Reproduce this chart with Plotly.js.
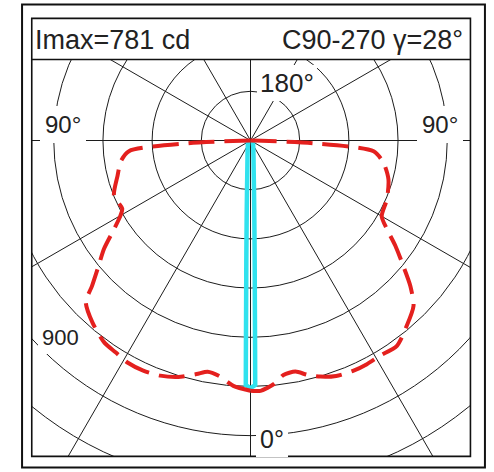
<!DOCTYPE html>
<html>
<head>
<meta charset="utf-8">
<script src="https://cdn.plot.ly/plotly-3.0.1.min.js"></script>
<style>
html, body { margin:0; padding:0; width:494px; height:472px; overflow:hidden; background:#ffffff; }
#chart { position:absolute; }
</style>
</head>
<body>
<div id="chart"></div>
<script>
// ---- data (gamma angle in degrees: negative = left half, intensity in cd) ----
// C0-180 plane, red dashed curve (both halves start at the pole)
const redLeftGamma  = [-90, -87.5, -85, -81, -75, -68, -62, -60, -57, -53.5, -50.5, -47.5, -45.5, -41, -36, -32.5, -29, -25, -21, -17, -13, -10.5, -7.7, -4, 0];
const redLeftCd     = [0, 190, 372, 400, 420, 449, 443, 458, 496, 556, 600, 655, 704, 735, 760, 766, 774, 774, 768, 754, 731, 717, 724, 750, 763];
const redRightGamma = [90, 87.5, 85, 80.5, 74.3, 66.7, 60, 57, 54, 50.6, 47.7, 44.6, 40, 35.5, 31, 27.5, 24, 20, 16.5, 13.6, 11, 8, 5.5, 2.3, 0];
const redRightCd    = [0, 192, 377, 411, 437, 453, 462, 496, 546, 603, 659, 708, 740, 769, 766, 769, 769, 764, 751, 735, 718, 722, 746, 764, 763];
// C90-270 plane, cyan curve
const cyanGamma = [-90, -45, -20, -10, -6, -4, -3, -2, -1.5, -1.25, -1.1, 0, 1.1, 1.25, 1.5, 2, 3, 4, 6, 10, 20, 45, 90];
const cyanCd    = [8, 11, 25, 53, 93, 153, 221, 366, 512, 642, 746, 755, 746, 642, 512, 366, 221, 153, 93, 53, 25, 11, 8];
// grid
const ringStep = 150;
const radialMax = 1200;
const angleStep = 30;
// texts
const headerLeft = "Imax=781 cd";
const headerRight = "C90-270 \u03b3=28\u00b0";
const angleLabelTop = "180\u00b0";
const angleLabelBottom = "0\u00b0";
const angleLabelSide = "90\u00b0";
const ringLabel = "900";

// ---- geometry of the page (window pixels) ----
const CX = 250.5, CY = 140.5;      // pole position in the window
const RPX = 393.6;                  // pixel radius of radialMax
const W = 2 * RPX;
const offX = CX - RPX, offY = CY - RPX;
const el = document.getElementById('chart');
el.style.left = offX + 'px';
el.style.top = offY + 'px';
el.style.width = W + 'px';
el.style.height = W + 'px';
const px = X => (X - offX) / W;
const py = Y => 1 - (Y - offY) / W;

const FONT = 'Liberation Sans, Arial, sans-serif';
const TXT = '#222222';
const GRID = '#1c1c1c';
const RED = '#e4201e';

const traces = [
  { type:'scatterpolar', mode:'lines', theta:cyanGamma, r:cyanCd,
    line:{color:'#30e2ee', width:4.5}, hoverinfo:'skip', showlegend:false },
  { type:'scatterpolar', mode:'lines', theta:redLeftGamma, r:redLeftCd,
    line:{color:RED, width:4, dash:'26px,10px', shape:'spline', smoothing:0.7}, hoverinfo:'skip', showlegend:false },
  { type:'scatterpolar', mode:'lines', theta:redRightGamma, r:redRightCd,
    line:{color:RED, width:4, dash:'26px,10px', shape:'spline', smoothing:0.7}, hoverinfo:'skip', showlegend:false }
];

const noLine = {color:'rgba(0,0,0,0)', width:0};
const shapes = [
  // white masks outside the diagram window
  {type:'rect', xref:'paper', yref:'paper', x0:0, x1:1, y0:py(59.5), y1:1, fillcolor:'#fff', line:noLine, layer:'above'},
  {type:'rect', xref:'paper', yref:'paper', x0:0, x1:1, y0:0, y1:py(456.5), fillcolor:'#fff', line:noLine, layer:'above'},
  {type:'rect', xref:'paper', yref:'paper', x0:0, x1:px(31.7), y0:0, y1:1, fillcolor:'#fff', line:noLine, layer:'above'},
  {type:'rect', xref:'paper', yref:'paper', x0:px(470.5), x1:1, y0:0, y1:1, fillcolor:'#fff', line:noLine, layer:'above'},
  // inner frame + header divider
  {type:'rect', xref:'paper', yref:'paper', x0:px(31.7), x1:px(470.5), y0:py(456.5), y1:py(18.3),
   line:{color:'#111', width:1.6}, fillcolor:'rgba(0,0,0,0)', layer:'above'},
  {type:'line', xref:'paper', yref:'paper', x0:px(31.7), x1:px(470.5), y0:py(59.5), y1:py(59.5),
   line:{color:'#111', width:1.4}, layer:'above'},
  // outer frame
  {type:'rect', xref:'paper', yref:'paper', x0:px(22), x1:px(485), y0:py(467.5), y1:py(4.5),
   line:{color:'#111', width:2}, fillcolor:'rgba(0,0,0,0)', layer:'above'}
];

function ann(text, X, Y, size, xanchor, bg, pad) {
  return {text:text, xref:'paper', yref:'paper', x:px(X), y:py(Y), xanchor:xanchor, yanchor:'middle',
          showarrow:false, font:{family:FONT, size:size, color:TXT},
          bgcolor: bg ? '#ffffff' : 'rgba(0,0,0,0)', borderpad: pad, borderwidth:0};
}
const annotations = [
  ann(headerLeft, 35, 40.3, 27, 'left', false, 0),
  ann(headerRight, 463.5, 40.3, 27, 'right', false, 0),
  ann(angleLabelTop, 286.7, 83.3, 26, 'center', true, 3),
  ann(angleLabelBottom, 272.5, 439, 25, 'center', true, 4),
  ann(angleLabelSide, 63.3, 124.7, 24, 'center', true, 5),
  ann(angleLabelSide, 440.3, 124.7, 24, 'center', true, 5),
  ann(ringLabel, 60.5, 338, 22, 'center', true, 4)
];

const layout = {
  width: W, height: W, autosize:false,
  margin:{l:0, r:0, t:0, b:0, pad:0},
  paper_bgcolor:'#fff', showlegend:false,
  polar:{
    domain:{x:[0,1], y:[0,1]},
    bgcolor:'#fff',
    angularaxis:{rotation:-90, direction:'counterclockwise', tickmode:'linear', tick0:0, dtick:angleStep,
                 showticklabels:false, ticks:'', showline:false, gridcolor:GRID, gridwidth:1},
    radialaxis:{range:[0, radialMax], tickmode:'linear', tick0:0, dtick:ringStep,
                showticklabels:false, ticks:'', showline:false, gridcolor:GRID, gridwidth:1}
  },
  shapes: shapes,
  annotations: annotations
};

Plotly.newPlot(el, traces, layout, {staticPlot:true, displayModeBar:false});
</script>
</body>
</html>
